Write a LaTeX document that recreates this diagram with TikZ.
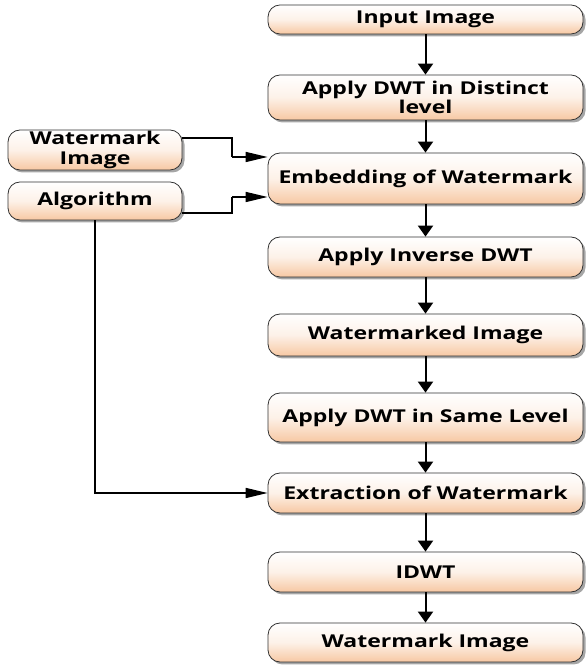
\documentclass[tikz,border=0pt]{standalone}
\usepackage{fontspec}
\newfontfamily\boxfont[FakeStretch=1.3]{Open Sans}
\usetikzlibrary{arrows.meta,shadows}
\definecolor{peach}{RGB}{247,200,163}
\definecolor{edge}{RGB}{50,50,50}
\begin{document}
\begin{tikzpicture}[x=1pt,y=1pt,
  box/.style={draw=edge, line width=0.8pt, rounded corners=12pt,
    top color=white, bottom color=peach, middle color=peach!25,
    drop shadow={shadow xshift=2.5pt, shadow yshift=-2.5pt, fill=black, opacity=0.35},
    inner sep=0pt, align=center,
    font=\boxfont\bfseries\fontsize{17.7}{19.5}\selectfont, text=black},
  rbox/.style={box, minimum width=315pt},
  lbox/.style={box, minimum width=174pt},
  varrow/.style={line width=2pt, -{Triangle[length=11pt,width=15pt]}},
  sarrow/.style={line width=1.5pt, -{Triangle[length=22pt,width=10pt]}},
  sline/.style={line width=1.5pt}
]
\useasboundingbox (0,0) rectangle (587,668);
\node[rbox, minimum height=29pt] (in)  at (425.5,648.5) {Input Image};
\node[rbox, minimum height=45pt] (dwt) at (425.5,570.5) {Apply DWT in Distinct\\level};
\node[rbox, minimum height=51pt] (emb) at (425.5,489.5) {Embedding of Watermark};
\node[rbox, minimum height=40pt] (inv) at (425.5,411) {Apply Inverse DWT};
\node[rbox, minimum height=42pt] (wmd) at (425.5,333) {Watermarked Image};
\node[rbox, minimum height=49pt] (sam) at (425.5,250.5) {Apply DWT in Same Level};
\node[rbox, minimum height=40pt] (ext) at (425.5,175) {Extraction of Watermark};
\node[rbox, minimum height=40pt] (idw) at (425.5,96) {IDWT};
\node[rbox, minimum height=39pt] (out) at (425.5,25.5) {Watermark Image};
\node[lbox, minimum height=40pt] (wm)  at (95,518) {Watermark\\Image};
\node[lbox, minimum height=38pt] (alg) at (95,467) {Algorithm};

\draw[varrow] (in.south) -- (dwt.north);
\draw[varrow] (dwt.south) -- (emb.north);
\draw[varrow] (emb.south) -- (inv.north);
\draw[varrow] (inv.south) -- (wmd.north);
\draw[varrow] (wmd.south) -- (sam.north);
\draw[varrow] (sam.south) -- (ext.north);
\draw[varrow] (ext.south) -- (idw.north);
\draw[varrow] (idw.south) -- (out.north);

\coordinate (wmo) at (wm.east |- 0,530);
\coordinate (wmk) at (232,530);
\coordinate (wmj) at (232,511);
\coordinate (wmi) at (emb.west |- 0,511);
\draw[sline] (wmo) -- (wmk) -- (wmj);
\draw[sarrow] (wmj) -- (wmi);

\coordinate (algo) at (alg.east |- 0,455);
\coordinate (algk) at (232,455);
\coordinate (algj) at (232,471);
\coordinate (algi) at (emb.west |- 0,471);
\draw[sline] (algo) -- (algk) -- (algj);
\draw[sarrow] (algj) -- (algi);

\draw[sarrow] (alg.south) |- (ext.west);
\end{tikzpicture}
\end{document}
